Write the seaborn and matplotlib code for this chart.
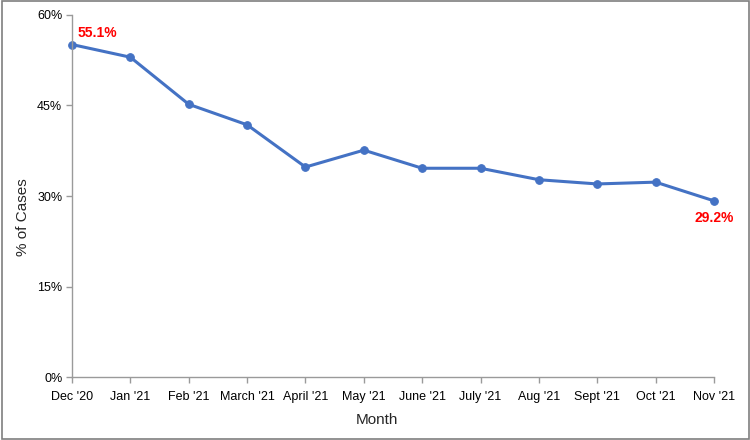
import pandas as pd
import matplotlib.pyplot as plt
import seaborn as sns
from matplotlib.ticker import PercentFormatter
from matplotlib.patches import Rectangle

months = ["Dec '20", "Jan '21", "Feb '21", "March '21", "April '21", "May '21",
          "June '21", "July '21", "Aug '21", "Sept '21", "Oct '21", "Nov '21"]
pct_cases = [55.1, 53.0, 45.2, 41.8, 34.8, 37.6, 34.6, 34.6, 32.7, 32.0, 32.3, 29.2]
y_ticks = [0, 15, 30, 45, 60]

sns.set_theme(style="white")
plt.rcParams['font.family'] = ['Liberation Sans', 'DejaVu Sans']

df = pd.DataFrame({'month': months, 'pct': pct_cases})
df['pos'] = range(len(df))

fig = plt.figure(figsize=(7.5, 4.4), dpi=100)
ax = fig.add_axes([0.096, 0.143, 0.856, 0.823])

sns.lineplot(data=df, x='pos', y='pct', ax=ax, color='#4472C4', linewidth=2.2,
             marker='o', markersize=5.5, markeredgecolor='#4472C4', clip_on=False)

ax.set_xlim(0, len(months) - 1)
ax.set_ylim(0, 60)
ax.set_xticks(df['pos'])
ax.set_xticklabels(months)
ax.set_yticks(y_ticks)
ax.yaxis.set_major_formatter(PercentFormatter(decimals=0))

for side in ['top', 'right']:
    ax.spines[side].set_visible(False)
for side in ['left', 'bottom']:
    ax.spines[side].set_color('#9a9a9a')
    ax.spines[side].set_linewidth(1.0)
ax.tick_params(axis='both', which='major', direction='out', length=4, width=1,
               color='#9a9a9a', labelsize=9, labelcolor='black',
               bottom=True, left=True)
ax.tick_params(axis='y', pad=3)
ax.tick_params(axis='x', pad=6)

ax.set_xlabel('Month', fontsize=11)
ax.set_ylabel('% of Cases', fontsize=11)
ax.xaxis.set_label_coords(0.475, -0.1)
ax.yaxis.set_label_coords(-0.066, 0.442)

# first and last value labels
ax.annotate(f"{pct_cases[0]}%", (df['pos'].iloc[0], pct_cases[0]), xytext=(4, 3),
            textcoords='offset points', color='red', fontweight='bold', fontsize=10,
            ha='left', va='bottom')
ax.annotate(f"{pct_cases[-1]}%", (df['pos'].iloc[-1], pct_cases[-1]), xytext=(0, -7),
            textcoords='offset points', color='red', fontweight='bold', fontsize=10,
            ha='center', va='top')

fig.patches.append(Rectangle((0.002, 0.003), 0.996, 0.994, transform=fig.transFigure,
                             fill=False, edgecolor='#7f7f7f', linewidth=1.2))

fig.savefig('out.png', dpi=100, facecolor='white')
